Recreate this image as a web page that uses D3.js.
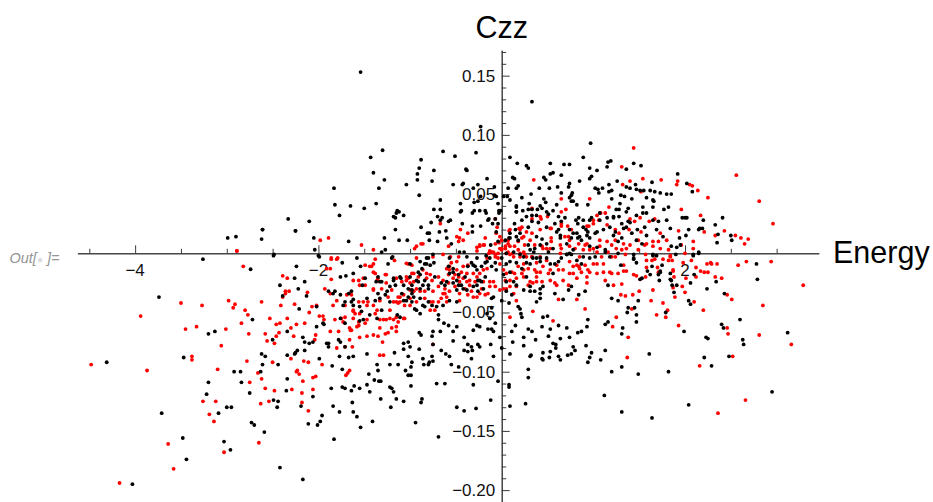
<!DOCTYPE html>
<html><head><meta charset="utf-8">
<script src="https://cdn.jsdelivr.net/npm/d3@7"></script>
<style>html,body{margin:0;padding:0;background:#fff}svg{display:block}text{font-family:"Liberation Sans",Arial,sans-serif}</style>
</head><body><svg id="c" width="933" height="502"></svg>
<script>
const xTitle="Energy", yTitle="Czz";
const xMajor=[-4,-2,0,2];
const xMinor=[-4.5,-3.5,-3,-2.5,-1.5,-1,-0.5,0.5,1,1.5,2.5,3];
const xLabels=[-4,-2,2];
const yLabels=[0.15,0.10,0.05,-0.05,-0.10,-0.15,-0.20];
const yMinor=[0.17,0.16,0.14,0.13,0.12,0.11,0.09,0.08,0.07,0.06,0.04,0.03,0.02,0.01,-0.01,-0.02,-0.03,-0.04,-0.06,-0.07,-0.08,-0.09,-0.11,-0.12,-0.13,-0.14,-0.16,-0.17,-0.18,-0.19,-0.21];
const blackPoints=[
[-2.99,.013],[-2.90,.014],[-2.62,.012],[-2.25,.019],[-2.61,.020],[-2.49,-.002],[-2.485,-.001],[-3.26,-.005],[-2.74,-.0135],[-2.24,-.011],[-2.26,-.021],[-2.15,-.024],[-2.42,-.027],[-2.22,-.030],[-2.39,-.036],[-2.13,-.036],[-3.74,-.037],[-2.21,-.047],[-2.72,-.056],[-2.34,-.066],[-3.13,-.066],[-3.20,-.068],[-2.50,-.073],[-2.17,-.071],[-2.15,-.075],[-2.10,-.076],[-2.23,-.082],[-2.15,-.082],[-2.25,-.084],[-2.26,-.085],[-2.34,-.086],[-2.62,-.085],[-2.58,-.087],[-3.47,-.088],[-4.31,-.092],[-2.61,-.094],[-2.44,-.094],[-2.63,-.100],[-2.92,-.100],[-2.85,-.100],[-3.20,-.109],[-2.84,-.109],[-2.34,-.106],[-2.35,-.116],[-2.75,-.118],[-3.22,-.119],[-2.49,-.124],[-2.44,-.125],[-2.45,-.130],[-3.00,-.130],[-2.95,-.130],[-2.19,-.129],[-3.09,-.135],[-3.71,-.135],[-2.73,-.143],[-2.70,-.145],[-2.11,-.144],[-2.59,-.151],[-3.48,-.156],[-3.03,-.159],[-2.96,-.166],[-3.44,-.174],[-2.42,-.181],[-2.17,-.191],[-4.03,-.195],
[-2.00,-.002],[-1.74,-.008],[-1.54,-.011],[-1.62,-.017],[-1.70,-.019],[-1.76,-.020],[-1.52,-.027],[-2.02,-.045],[-1.94,-.060],[-2.06,-.075],[-1.91,-.076],[-1.89,-.079],[-1.78,-.073],[-1.76,-.075],[-1.71,-.079],[-1.62,-.087],[-1.67,-.088],[-1.77,-.087],[-1.99,-.089],[-1.85,-.095],[-1.74,-.098],[-1.47,-.085],[-1.36,-.094],[-1.35,-.099],[-1.45,-.102],[-1.22,-.094],[-1.13,-.094],[-1.17,-.084],[-1.02,-.087],[-.98,-.092],[-.99,-.096],[-1.05,-.099],[-1.02,-.103],[-.99,-.103],[-1.39,-.107],[-1.32,-.108],[-1.34,-.108],[-1.47,-.111],[-1.22,-.113],[-1.20,-.114],[-1.61,-.112],[-1.74,-.113],[-1.71,-.114],[-1.86,-.114],[-1.64,-.116],[-1.55,-.114],[-1.44,-.117],[-1.18,-.117],[-.99,-.112],[-2.06,-.121],[-1.63,-.126],[-1.32,-.123],[-1.15,-.123],[-1.07,-.125],[-1.21,-.130],[-.87,-.123],[-.88,-.126],[-1.84,-.129],[-1.77,-.134],[-1.62,-.134],[-1.58,-.138],[-1.96,-.137],[-1.98,-.142],[-2.01,-.145],[-1.41,-.142],[-1.54,-.147],[-.94,-.143],[-1.83,-.157],[-.69,-.155],[-.71,-.110],[-.62,-.110],[-.31,-.111],[-.49,-.130],[-.41,-.133],[-.28,-.131],[-.12,-.124],[-.04,-.108],[.08,-.111],[.08,-.113],[.09,-.129],[.26,-.127],[.29,-.105],[.29,-.098],[1.12,-.120],[1.20,-.100],[1.08,-.090],[1.13,-.082],[.94,-.092],[.96,-.088],[.98,-.084],[.92,-.078],[.78,-.079],[.80,-.082],[.76,-.085],[.72,-.086],[.64,-.090],[.62,-.087],[.45,-.084],[.44,-.089],[.45,-.090],[.52,-.088],[.56,-.076],[.59,-.077],[.59,-.080],[.53,-.083],[.31,-.087],[.32,-.086],[.24,-.078],[.24,-.071],[.37,-.073],[.29,-.064],[.33,-.066],[.44,-.062],[.53,-.064],[.51,-.070],[.64,-.072],[.74,-.071],[.71,-.063],[.62,-.061],[.83,-.067],[.87,-.066],[.93,-.062],[.94,-.056],[1.13,-.060],[1.16,-.058],[.45,-.054],[.50,-.053],[.09,-.085],[.12,-.075],[-.02,-.071],[0,-.080],[-.12,-.077],[-.09,-.087],[-.26,-.077],[-.24,-.079],[-.37,-.077],[-.33,-.079],[-.32,-.082],[-.33,-.089],[-.41,-.082],[-.37,-.083],[-.41,-.071],[-.53,-.074],[-.61,-.085],[-.57,-.087],[-.66,-.082],[-.55,-.094],[-.47,-.096],[-.76,-.087],[-.75,-.091],[-.79,-.092],[-.80,-.094],[-.86,-.089],[-.85,-.094],[-.90,-.081],[-.75,-.077],[-1.02,-.075],[-1.07,-.076],[-1.00,-.079],[-1.07,-.081],[-.90,-.067],[-.88,-.069],[-.75,-.066],[-.76,-.070],[-.67,-.066],[-.69,-.056],[-.69,-.052],[-.58,-.061],[-.63,-.059],[-.53,-.066],[-.49,-.062],[-.31,-.065],[-.27,-.061],[-.24,-.062],[-.15,-.064],[-.11,-.064],[-.09,-.066],[-.07,-.059],[-.13,-.055],[-.11,-.046],[-.11,-.038],[-.16,-.051],[.11,-.066],[.15,-.061],[.18,-.045],[.20,-.047],[.21,-.051],[.22,-.054],
[-1.37,-.024],[-1.33,-.024],[-1.49,-.021],[-1.22,-.028],[-1.25,-.032],[-1.35,-.034],[-1.38,-.040],[-1.47,-.038],[-1.64,-.032],[-1.67,-.034],[-1.73,-.044],[-1.76,-.055],[-1.89,-.032],[-1.82,-.032],[-1.64,-.041],[-1.62,-.039],[-1.51,-.056],[-1.55,-.057],[-1.71,-.059],[-1.31,-.048],[-1.14,-.052],[-1.11,-.054],[-1.18,-.021],[-1.11,-.020],[-1.16,-.027],[-1.24,-.009],[-1.20,-.004],[-1.00,-.009],[-.89,-.007],[-.82,-.009],[-.74,-.008],[-.82,-.004],[-1.07,-.027],[-1.02,-.030],[-.98,-.027],[-.93,-.023],[-.89,-.018],[-.91,-.024],[-.84,-.023],[-.80,-.030],[-.86,-.027],[-.96,-.037],[-1.02,-.037],[-1.07,-.040],[-.98,-.041],[-.93,-.048],[-.89,-.051],[-.84,-.045],[-.80,-.041],[-.66,-.025],[-.60,-.024],[-.57,-.017],[-.53,-.013],[-.49,-.023],[-.44,-.027],[-.40,-.020],[-.31,-.010],[-.27,-.014],[-.24,-.023],[-.18,-.020],[-.11,-.011],[-.16,-.007],[-.06,-.014],[-.64,-.044],[-.57,-.040],[-.49,-.031],[-.38,-.031],[-.31,-.028],[-.26,-.032],[-.20,-.030],[-.09,-.037],[.02,-.018],[.05,-.009],[.09,-.016],[.13,-.024],[.05,-.032],[.11,-.035],[0,-.040],[.08,-.042],[.27,-.020],[.31,-.009],[.38,-.004],[.42,-.007],[.53,-.009],[.58,-.009],[.62,-.007],[.71,-.001],[.82,-.006],[.87,-.009],[.31,-.032],[.36,-.032],[.42,-.034],[.45,-.028],[.56,-.017],[.73,-.031],[.76,-.028],[.91,-.032],[.84,-.035],[.38,-.041],[.42,-.038],[.67,-.039],[1.20,-.038],[1.27,-.040],[1.16,-.027],
[1.30,-.010],[1.44,-.005],[1.47,-.008],[1.65,-.002],[1.69,-.002],[1.64,-.011],[1.75,-.010],[1.59,-.015],[1.73,-.015],[1.73,-.016],[1.71,-.018],[1.62,-.018],[1.53,-.021],[1.51,-.022],[1.72,-.023],[1.84,-.017],[1.84,-.022],[1.85,-.023],[1.86,-.027],[1.91,-.027],[2.06,-.025],[2.10,-.018],[1.88,-.033],[2.34,-.024],[2.24,-.030],[2.43,-.034],[2.78,-.009],[2.79,-.022],[2.04,-.040],[2.06,-.043],[1.49,-.040],[1.38,-.046],[1.45,-.046],[1.37,-.050],[1.47,-.052],[1.47,-.058],[1.79,-.050],[2.60,-.056],[2.40,-.060],[2.42,-.063],[1.32,-.063],[1.31,-.068],[1.99,-.066],[2.23,-.071],[2.25,-.072],[2.63,-.073],[2.64,-.077],[3.12,-.067],[1.61,-.085],[2.48,-.087],[2.21,-.088],[2.29,-.095],[1.31,-.096],[1.82,-.100],[1.49,-.102],[2.95,-.117],[2.04,-.128],[1.31,-.134],[1.64,-.139],[2.15,0],[1.90,-.001],[2.09,-.002],
[-1.54,.153],[-.23,.107],[-.28,.085],[-1.30,.087],[-1.43,.081],[-1.40,.068],[-1.28,.062],[-.88,.079],[-.90,.072],[-.92,.067],[-.92,.062],[-.76,.061],[-.74,.070],[-.64,.086],[-.51,.082],[-.38,.070],[-.39,.071],[.09,.081],[.17,.076],[.12,.064],[.14,.063],[-.16,.063],[-.53,.058],[-.43,.058],[-.42,.059],[-1.04,.058],[-.26,.058],[-.31,.055],[-1.34,.055],[-1.83,.055],[-.08,.056],[.07,.055],[.16,.055],[.18,.057],[-.90,.049],[-.67,.045],[-.23,.048],[-.26,.044],[-.30,.043],[-.45,.042],[-.06,.048],[-.08,.049],[.02,.048],[.06,.048],[.09,.045],[-.04,.042],[.16,.040],[-1.82,.041],[-1.65,.040],[-1.37,.042],[-1.50,.038],[-.74,.037],[-.67,.037],[-.44,.036],[-.45,.035],[-.24,.036],[-.30,.036],[-.18,.036],[-.17,.034],[-1.14,.036],[-1.12,.035],[-1.15,.034],[-1.18,.031],[-1.16,.030],[-1.07,.032],[-1.77,.032],[-.03,.036],[-.01,.036],[-.03,.034],[-.70,.031],[-.65,.030],[-.67,.028],[.16,.035],[-2.33,.029],[-2.10,.027],[-.77,.026],[-.56,.028],[-.58,.027],[-.14,.029],[-.15,.028],[-.32,.034],[-.07,.029],[-.88,.022],[-1.16,.020],[-2.61,.020],[-2.25,.019],[-.43,.025],[-.32,.023],[-.23,.023],[-.10,.025],[-.04,.025],[.14,.025],[-.81,.017],[-.79,.017],[-.68,.018],[-.61,.019],[-.32,.018],[-.06,.018],[-2.05,.013],[-1.28,.013],[-.60,.013],[-.70,.010],[-.79,.011],[-1.12,.011],[-1.03,.011],[-1.67,.010],[-.55,.008],[-.12,.007],[-.04,.010],[.04,.011],[.08,.013],[-2.04,.003],[-1.27,.003],[-1.31,.001],[-.46,.001],[-.41,.001],[-.75,-.001],[-.80,-.004],[-1.99,-.003],[-1.58,-.004],[-1.19,-.003],[-.57,-.004],[-.38,-.003],[-.27,-.004],[-.17,-.002],[.05,0],[.13,.001],
[.33,.128],[.97,.093],[.27,.074],[.29,.072],[.53,.076],[.68,.075],[.74,.075],[.89,.081],[.96,.072],[1.04,.070],[1.15,.073],[1.16,.077],[1.19,.078],[1.44,.076],[1.52,.074],[1.36,.071],[1.92,.067],[.46,.064],[.48,.062],[.53,.067],[.56,.068],[.65,.066],[.96,.063],[.98,.065],[.85,.061],[.74,.059],[.73,.056],[.61,.056],[.52,.055],[.41,.055],[1.26,.061],[1.17,.058],[1.02,.055],[1.05,.054],[1.10,.055],[1.36,.056],[1.40,.055],[1.46,.058],[1.47,.054],[1.51,.053],[1.55,.053],[1.62,.053],[1.67,.052],[1.73,.051],[1.64,.060],[2.02,.059],[2.08,.052],[1.80,.050],[1.85,.050],[1.17,.052],[1.20,.053],[.65,.051],[.77,.051],[.76,.049],[.74,.047],[.32,.050],[.22,.047],[.46,.046],[.60,.041],[.48,.043],[.30,.042],[.16,.039],[.76,.044],[.78,.044],[.82,.041],[.94,.041],[1.06,.051],[1.20,.046],[1.30,.049],[1.34,.048],[1.42,.046],[1.58,.047],[1.65,.045],[1.66,.044],[1.65,.039],[1.29,.042],[1.38,.038],[1.25,.037],[1.28,.037],[1.47,.032],[1.54,.039],[1.54,.034],[1.58,.034],[1.77,.037],[1.82,.039],[.42,.040],[.44,.038],[.39,.037],[.33,.037],[.29,.037],[.23,.036],[.16,.035],[.49,.035],[.51,.033],[.56,.036],[.27,.031],[.33,.032],[.38,.032],[.22,.028],[.33,.027],[.40,.026],[.69,.030],[.62,.031],[.84,.030],[.81,.028],[.83,.025],[.89,.028],[.98,.030],[.96,.028],[1.07,.034],[1.22,.031],[1.22,.030],[1.28,.031],[1.36,.035],[1.38,.027],[1.40,.026],[1.36,.022],[1.33,.021],[1.65,.028],[1.71,.027],[1.80,.028],[1.97,.030],[2.00,.030],[2.02,.030],[2.20,.028],[2.41,.030],[2.33,.024],[1.84,.021],[2.04,.020],[2.16,.021],[2.15,.020],[2.19,.021],[1.48,.020],[1.58,.015],[1.94,.013],[2.01,.015],[2.36,.016],[2.50,.015],[2.35,.009],[2.51,.011],[.62,.020],[.60,.018],[.64,.015],[.64,.013],[.92,.020],[.94,.018],[.82,.017],[.85,.014],[.83,.013],[.93,.015],[.96,.013],[.87,.011],[1.04,.018],[1.24,.018],[1.27,.010],[1.31,.013],[1.22,.015],[.38,.014],[.44,.012],[.49,.008],[.42,.007],[.29,.007],[.18,.011],[.16,.014],[.09,.013],[.71,.008],[.76,.013],[1.04,.005],[1.13,.003],[.96,.006],[1.53,.008],[1.85,.006],[1.91,.005],[1.95,.007],[1.44,-.001],[1.65,-.001],[2.09,-.001],[2.15,.001],[.31,.003],[.35,.001],[.36,.004],[.51,.001],[.56,.004],[.71,-.001],[.74,0],[.78,.003],[.20,-.001],[.24,-.003],[1.13,.001],[1.18,-.003],[1.27,0],[1.02,-.003],[1.44,-.004]
];
const blackBand=[
[-1.35,-.020],[-1.31,-.024],[-1.18,-.023],[-1.10,-.021],[-1.00,-.020],[-.91,-.016],[-.87,-.013],[-.78,-.010],[-.84,-.009],[-.58,-.011],[-.53,-.016],[-.47,-.018],[-.37,-.011],[-.33,-.008],[-.29,-.011],[-.22,-.011],[-.18,-.008],[-.13,-.004],[-.07,-.008],[0,-.004],[.09,-.007],[.16,-.008],[.22,-.013],[.27,-.008],[.34,-.004],[.42,-.004],[.49,-.004],[.65,-.004],[.76,-.001],[.89,-.003],[.96,-.004],[-.62,-.027],[-.53,-.025],[-.47,-.027],[-.42,-.030],[-.27,-.027],[-.22,-.024],[-.26,-.023],[-.73,-.020],[-.80,-.027],[-.89,-.030],[-.98,-.031],[-1.09,-.034],[-1.04,-.040],[-.98,-.034],[-.89,-.038],[-.86,-.044],[-.76,-.044],[-.71,-.045],[-.95,-.047],[-.49,-.041],[.05,-.024],[.16,-.027],[.24,-.031],[.31,-.028],[.42,-.030],[.58,-.034],[-1.27,-.035],[-1.22,-.041],[-1.33,-.038],[-1.36,-.055],[-1.44,-.052],[-1.53,-.049],[-1.71,-.041],[-1.76,-.035],[-1.55,-.045],[-1.62,-.044],[-1.84,-.034],[-1.95,-.059],[-1.89,-.076],[-2.02,-.062],
[.15,.020],[.09,.017],[.20,.017],[.29,.022],[.49,.022],[.58,.025],[.65,.027],[.74,.020],[.78,.017],[.89,.022],[1.02,.017],[1.11,.020],[1.18,.022],[1.31,.025],[1.42,.017],[1.47,.011],[1.69,.020],[1.76,.014],[1.56,.022],[1.07,.028],[1.15,.030]
];
const redPoints=[
[-2.89,.002],[-2.82,-.011],[-2.39,-.019],[-2.34,-.021],[-2.36,-.032],[-2.32,-.032],[-2.36,-.034],[-2.12,-.033],[-2.39,-.037],[-3.50,-.042],[-3.27,-.044],[-2.98,-.040],[-2.91,-.043],[-2.93,-.046],[-2.62,-.041],[-2.41,-.044],[-2.26,-.043],[-2.80,-.048],[-2.77,-.052],[-2.10,-.050],[-3.94,-.053],[-2.53,-.055],[-2.34,-.055],[-2.84,-.059],[-2.42,-.059],[-2.46,-.060],[-2.24,-.060],[-2.15,-.059],[-3.33,-.062],[-3.45,-.064],[-3.01,-.064],[-2.30,-.063],[-2.43,-.067],[-2.76,-.068],[-2.58,-.068],[-2.46,-.070],[-2.27,-.070],[-2.56,-.074],[-2.48,-.076],[-3.06,-.078],[-3.38,-.087],[-3.38,-.090],[-2.30,-.089],[-2.78,-.091],[-2.50,-.092],[-2.16,-.091],[-2.11,-.092],[-4.48,-.094],[-3.87,-.099],[-3.10,-.098],[-2.23,-.099],[-2.24,-.100],[-2.21,-.102],[-2.66,-.101],[-2.62,-.106],[-2.75,-.109],[-2.17,-.108],[-2.58,-.114],[-2.48,-.116],[-2.29,-.115],[-2.18,-.118],[-3.26,-.125],[-3.12,-.125],[-2.54,-.125],[-2.63,-.127],[-2.18,-.126],[-2.11,-.133],[-3.19,-.136],[-3.14,-.142],[-2.65,-.160],[-3.64,-.161],[-3.03,-.168],[-3.58,-.182],[-4.17,-.194],
[-1.86,-.005],[-1.80,-.005],[-1.87,-.013],[-1.86,-.022],[-1.93,-.030],[-1.87,-.034],[-2.02,-.044],[-2.07,-.045],[-1.95,-.053],[-1.94,-.056],[-1.99,-.053],[-1.82,-.056],[-1.87,-.066],[-2.03,-.069],[-2.04,-.073],[-1.73,-.058],[-1.75,-.055],[-1.66,-.063],[-1.65,-.065],[-1.78,-.066],[-1.66,-.073],[-1.80,-.080],[-1.71,-.079],[-1.63,-.079],[-1.96,-.094],[-2.03,-.104],[-2.06,-.105],[-1.66,-.099],[-1.68,-.101],[-1.70,-.103],[-2.06,-.115],[-1.33,-.086],[-1.29,-.086],
[-1.40,-.009],[-1.42,-.011],[-1.38,-.017],[-1.35,-.021],[-1.27,-.018],[-1.49,-.010],[-1.51,-.021],[-1.56,-.023],[-1.55,-.027],[-1.49,-.027],[-1.40,-.030],[-1.64,-.035],[-1.69,-.035],[-1.51,-.041],[-1.46,-.041],[-1.40,-.044],[-1.62,-.049],[-1.60,-.051],[-1.71,-.044],[-1.80,-.040],[-1.84,-.044],[-1.56,-.061],[-1.58,-.062],[-1.49,-.059],[-1.62,-.055],[-1.55,-.051],[-1.36,-.048],[-1.29,-.056],[-1.33,-.063],[-1.26,-.056],[-1.18,-.056],[-1.13,-.058],[-1.06,-.055],[-1.20,-.063],[-1.15,-.066],[-1.27,-.068],[-1.30,-.075],[-1.40,-.069],[-1.55,-.071],[-1.47,-.070],[-1.22,-.048],[-1.13,-.042],[-1.11,-.037],[-1.06,-.044],[-1.00,-.044],[-1.07,-.035],[-1.18,-.041],[-1.02,-.021],[-1.00,-.025],[-1.02,-.009],[-1.17,-.006],[-.96,-.017],[-.86,-.014],[-.78,-.018],[-.76,-.023],[-.96,-.032],[-.89,-.032],[-.75,-.041],[-.69,-.041],[-.78,-.048],[-.73,-.048],[-.60,-.041],[-.64,-.034],[-.62,-.030],[-.57,-.014],[-.58,-.018],[-.51,-.018],[-.46,-.024],[-.51,-.028],[-.38,-.024],[-.35,-.027],[-.37,-.035],[-.31,-.037],[-.27,-.037],[-.22,-.030],[-.42,-.011],[-.37,-.010],[-.20,-.014],[-.16,-.004],[-.11,.001],[-.07,-.001],[-.27,-.020],[-.09,-.024],[-.07,-.028],[-.15,-.034],[-.02,-.009],[.02,-.030],[.09,-.028],[.14,-.017],[.16,-.021],[.22,-.017],[.24,-.009],[.13,-.034],[.16,-.040],[.34,-.025],[.38,-.024],[.44,-.024],[.51,-.017],[.31,-.024],[.42,-.016],[.38,-.016],[.84,-.011],[.87,-.016],[.94,-.014],[.78,-.017],[.93,-.020],[.82,-.021],[.74,-.017],[1.04,-.009],[1.18,-.016],[1.27,-.017],[1.13,-.023],[1.22,-.027],[.60,-.027],[.62,-.039],[.82,-.039],[.91,-.047],[.56,-.057],[.34,-.049],[1.21,-.062],[1.25,-.054],[.09,-.054],[-.75,-.077],
[1.57,-.001],[1.84,-.002],[1.76,-.005],[1.82,-.006],[1.86,-.006],[1.58,-.006],[1.64,-.006],[1.67,-.005],[1.98,-.008],[2.07,-.006],[2.12,-.012],[2.24,-.009],[2.28,-.008],[2.29,-.009],[2.35,-.009],[2.58,-.010],[2.67,-.007],[2.94,-.007],[1.33,-.010],[1.58,-.012],[1.70,-.012],[1.33,-.015],[1.36,-.015],[1.44,-.018],[1.47,-.019],[1.51,-.022],[1.57,-.020],[1.71,-.016],[1.87,-.014],[1.87,-.015],[1.88,-.020],[2.01,-.021],[2.12,-.020],[2.17,-.015],[2.21,-.016],[2.25,-.016],[2.33,-.020],[2.40,-.021],[1.31,-.026],[1.65,-.031],[1.87,-.029],[1.97,-.028],[2.00,-.033],[3.29,-.027],[1.30,-.035],[1.35,-.036],[1.43,-.035],[1.50,-.032],[2.46,-.035],[2.51,-.039],[1.89,-.037],[1.63,-.040],[1.76,-.042],[2.10,-.041],[2.85,-.044],[2.20,-.048],[1.42,-.047],[1.81,-.048],[1.69,-.052],[1.79,-.054],[1.93,-.061],[2.46,-.063],[2.47,-.068],[2.81,-.069],[3.16,-.077],[1.38,-.071],[1.37,-.088],[2.52,-.087],[2.16,-.095],[2.66,-.124],[2.36,-.135],
[-1.98,.011],[-1.89,.013],[-2.89,.002],[-1.53,.007],[-1.40,.003],[-.67,.025],[-.45,.020],[-.37,.017],[-.49,.014],[-.46,.013],[-.47,.010],[-.42,.011],[-.18,.013],[-.05,.022],[-.07,.029],[.08,.019],[-.88,.008],[-.86,.008],[-.93,.006],[-.95,.004],[-.58,.006],[-.64,-.001],[-.75,-.003],[-.27,.005],[-.24,.006],[-.19,.007],[-.27,.002],[-.13,.002],[-.09,.001],[-.14,0],[-.04,0],[-.07,-.003],[-.04,-.004],[-.06,.017],[-.03,.009],[.04,.006],[0,.004],[.12,0],[.07,.008],[.18,.010],[.19,.021],[-1.86,-.004],[-1.79,-.004],[-1.38,-.005],[-.93,-.004],[-.56,-.003],[-.47,-.003],
[1.44,.089],[1.31,.073],[2.56,.066],[.35,.062],[1.54,.063],[1.74,.062],[1.92,.061],[1.91,.058],[2.05,.058],[2.08,.057],[2.14,.053],[1.32,.058],[1.40,.061],[.96,.046],[.65,.046],[2.25,.047],[2.81,.044],[1.52,.052],[1.96,.037],[2.17,.032],[.70,.037],[.65,.035],[.33,.038],[2.96,.025],[1.17,.039],[1.13,.034],[1.08,.034],[1.04,.032],[1.00,.028],[1.06,.028],[1.40,.029],[1.45,.027],[1.51,.030],[1.61,.027],[1.67,.029],[.42,.031],[.43,.029],[.50,.031],[.33,.029],[.65,.023],[.72,.023],[.76,.020],[.53,.021],[.54,.021],[.42,.020],[.27,.018],[.22,.022],[.20,.020],[.95,.023],[.93,.023],[1.00,.025],[1.15,.024],[1.24,.020],[1.28,.017],[1.39,.020],[1.52,.018],[1.73,.017],[1.93,.019],[2.21,.018],[2.33,.015],[2.43,.019],[2.55,.015],[2.61,.013],[2.69,.012],[2.65,.008],[2.09,.010],[1.80,.011],[1.71,.010],[1.58,.008],[1.65,.010],[1.65,.006],[.24,.014],[.22,.013],[.33,.017],[.31,.011],[.25,.007],[.54,.013],[.73,.014],[.74,.011],[.84,.008],[.91,.007],[1.07,.011],[1.15,.010],[1.20,.007],[.04,.004],[.14,.006],[.09,.020],[.07,.011],[-.02,.014],[1.49,.003],[1.73,.004],[1.82,.003],[1.96,.007],[2.09,.004],[.44,.006],[.49,.004],[.64,.007],[.65,.004],[.80,.004],[.89,.003],[.96,.003],[1.04,.001],[1.31,.003],[1.36,.004],[1.25,.004],[.20,0],[.33,-.003],[.42,-.003],[.85,-.003],[1.09,-.003],[1.24,-.003],[1.35,-.001],[1.84,-.003],[2.00,0]
];
const redBand=[
[-1.44,-.011],[-1.04,-.0085],[-.98,-.010],[-.60,-.013],[-.55,-.008],[-.49,-.007],[-.24,.007],[-.20,.007],[-.13,.001],[0,.003],[.05,0],[.09,-.001],[.20,-.003],[.25,-.001],[.33,-.003],[.38,-.008],[.49,-.006],[.60,-.010],[.74,-.007],[.82,-.010],[.91,-.010],[1.00,-.009],[1.11,-.009],[1.20,-.003],
[-1.91,-.013],[-1.62,-.023],[-1.40,-.016],[-1.26,-.018],[-1.04,-.020],[-.98,-.017],[-.82,-.017],[-.57,-.011],[-.49,-.014],[-.44,-.016],[-.38,-.017],[-.31,-.017],[-.24,-.017],[-.16,-.013],[.02,-.014],[.05,-.017],[.11,-.016],[.18,-.011],[.24,-.014],[.29,-.013],[.36,-.014],[.45,-.011],[.53,-.014],[.62,-.014],[.67,-.014],[.78,-.011],[.85,-.013],[.96,-.016],[1.04,-.017],[1.11,-.016],[1.20,-.017],
[-1.36,-.023],[-1.26,-.025],[-1.15,-.021],[-1.09,-.024],[-1.04,-.023],[-.96,-.024],[-.91,-.020],[-.82,-.021],[-.69,-.020],[-.64,-.023],[-.58,-.025],[-.53,-.021],[-.47,-.020],[-.42,-.021],[-.35,-.023],[-.29,-.024],[-.20,-.024],[-.13,-.024],[.04,-.023],[.09,-.023],[.24,-.020],[.29,-.027],[.38,-.020],[.53,-.023],[.58,-.025],[.67,-.023],[.73,-.027],[.93,-.025],
[-1.40,-.031],[-1.31,-.030],[-1.20,-.031],[-1.13,-.037],[-1.00,-.031],[-.93,-.030],[-.84,-.032],[-.75,-.032],[-.69,-.028],[-.62,-.034],[-.57,-.032],[-.46,-.034],[-.40,-.030],[-.33,-.032],[-.24,-.034],[-.18,-.035],[-.13,-.028],[-.02,-.031],[.05,-.030],[.16,-.028],
[-1.56,-.041],[-1.47,-.044],[-1.33,-.040],[-1.24,-.037],[-1.15,-.041],[-1.11,-.041],[-1.00,-.038],[-.93,-.041],[-.84,-.038],[-.78,-.041],[-.66,-.038],[-.60,-.037],[-.46,-.040],
[-1.62,-.048],[-1.71,-.054],[-1.47,-.056],[-1.33,-.056],[-1.15,-.054],[-1.07,-.055],[-1.56,-.058],[-1.38,-.051],[-1.22,-.055],[-1.24,-.067],[-1.64,-.065],[-1.35,-.070],[-1.15,-.062],
[.65,.025],[.09,.006],[0,.011],[.24,.001],[.45,.004],[.54,.010],[.64,0],[.74,.006],[.69,.014],[.93,.008],[1.00,.004],[1.07,.006],[1.16,.001],[1.24,.011],[1.33,.008],[1.40,.007],[1.49,.011],[1.56,.007],[.53,.004],[.36,.007],[.18,.003],[.27,-.003],[.13,-.003],[.07,.001],[-.02,.004],[-.07,.008]
];
const x=d3.scaleLinear().domain([-4.63,3.46]).range([77.4,818.8]);
const y=d3.scaleLinear().domain([-0.2102,0.1715]).range([502.2,50.2]);
const svg=d3.select("#c");
const axisColor="#3a3a3a";
const x0=y(0), y0=x(0);
const gx=svg.append("g").attr("transform",`translate(0,${x0})`);
gx.append("g").call(d3.axisTop(x).tickValues(xMajor).tickSize(8).tickSizeOuter(0).tickFormat(""));
gx.append("g").call(d3.axisTop(x).tickValues(xMinor).tickSize(4.5).tickSizeOuter(0).tickFormat(""));
const gy=svg.append("g").attr("transform",`translate(${y0},0)`);
gy.append("g").call(d3.axisRight(y).tickValues(yLabels).tickSize(8).tickSizeOuter(0).tickFormat(""));
gy.append("g").call(d3.axisRight(y).tickValues(yMinor).tickSize(4.5).tickSizeOuter(0).tickFormat(""));
svg.selectAll(".domain,.tick line").attr("stroke",axisColor).attr("stroke-width",1);
svg.selectAll(".xl").data(xLabels).join("text").attr("class","xl").attr("x",d=>x(d)).attr("y",x0+23)
  .attr("text-anchor","middle").attr("font-size",17).attr("fill","#111").text(d=>String(d).replace("-","\u2212"));
svg.selectAll(".yl").data(yLabels).join("text").attr("class","yl").attr("x",y0-6.5).attr("y",d=>y(d)+6)
  .attr("text-anchor","end").attr("font-size",17).attr("fill","#111").text(d=>d3.format(".2f")(d).replace("-","\u2212"));
svg.append("text").attr("x",y0).attr("y",38).attr("text-anchor","middle").attr("font-size",30.5).attr("fill","#000").text(yTitle);
svg.append("text").attr("x",833).attr("y",263).attr("font-size",30.5).attr("fill","#000").text(xTitle);
const out=svg.append("text").attr("x",9.5).attr("y",263).attr("font-size",14.5).attr("font-style","italic").attr("fill","#959595");
out.append("tspan").text("Out[");
out.append("tspan").attr("fill","#dcdcdc").attr("font-style","normal").attr("font-size",10).text("\u25CF");
out.append("tspan").text(" ]=");
const draw=(data,color)=>svg.append("g").selectAll("circle").data(data).join("circle")
  .attr("cx",d=>x(d[0])).attr("cy",d=>y(d[1])).attr("r",1.9).attr("fill",color);
draw(redPoints.concat(redBand),"#ff0000");
draw(blackPoints.concat(blackBand),"#000000");
</script></body></html>
